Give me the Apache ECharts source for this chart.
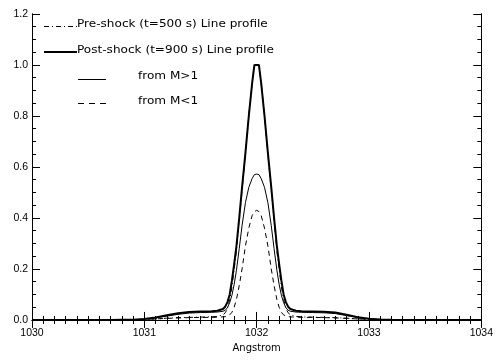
<!DOCTYPE html>
<html><head><meta charset="utf-8">
<script src="https://cdn.jsdelivr.net/npm/echarts@6/dist/echarts.min.js"></script>
<style>html,body{margin:0;padding:0;background:#fff}#c{width:496px;height:361px}</style>
</head><body><div id="c"></div>
<script>
var wavelengths = [1030.0,1030.5,1030.7,1030.8,1030.9,1031.0,1031.1,1031.2,1031.3,1031.4,1031.5,1031.6,1031.65,1031.7,1031.72,1031.74,1031.76,1031.78,1031.8,1031.82,1031.845,1031.87,1031.9,1031.93,1031.96,1031.98,
  1032.0,
  1032.02,1032.04,1032.07,1032.1,1032.13,1032.155,1032.18,1032.2,1032.22,1032.24,1032.26,1032.28,1032.3,1032.35,1032.4,1032.5,1032.6,1032.7,1032.8,1032.9,1033.0,1033.1,1033.2,1033.3,1033.5,1034.0];
var preShock = [0,0,0,0,0.001,0.002,0.004,0.007,0.009,0.01,0.011,0.012,0.014,0.02,0.028,0.045,0.08,0.13,0.2,0.27,0.39,0.51,0.65,0.8,0.93,1.0,
  1.0,
  1.0,0.93,0.8,0.65,0.51,0.39,0.27,0.2,0.13,0.08,0.045,0.028,0.02,0.014,0.012,0.011,0.01,0.009,0.007,0.004,0.002,0.001,0,0,0,0];
var postShock = [0,0,0,0.0005,0.001,0.004,0.01,0.018,0.026,0.031,0.033,0.034,0.036,0.043,0.052,0.07,0.1,0.155,0.22,0.29,0.4,0.52,0.655,0.8,0.93,1.0,
  1.0,
  1.0,0.93,0.8,0.655,0.52,0.4,0.29,0.22,0.155,0.1,0.07,0.052,0.043,0.036,0.034,0.033,0.032,0.029,0.02,0.011,0.005,0.002,0.0005,0,0,0];
var fromMgt1 = [0,0,0,0,0.001,0.003,0.008,0.015,0.022,0.027,0.029,0.03,0.031,0.034,0.038,0.048,0.068,0.097,0.14,0.195,0.28,0.37,0.46,0.52,0.555,0.57,
  0.572,
  0.57,0.555,0.52,0.46,0.37,0.28,0.195,0.14,0.097,0.068,0.048,0.038,0.034,0.031,0.03,0.029,0.028,0.025,0.017,0.009,0.004,0.001,0,0,0,0];
var fromMlt1 = [0,0,0,0,0.001,0.002,0.004,0.006,0.008,0.009,0.01,0.01,0.011,0.012,0.013,0.015,0.02,0.03,0.05,0.08,0.135,0.2,0.29,0.36,0.41,0.425,
  0.43,
  0.425,0.41,0.36,0.29,0.2,0.135,0.08,0.05,0.03,0.02,0.015,0.013,0.012,0.011,0.01,0.01,0.009,0.008,0.006,0.004,0.002,0.001,0,0,0,0];
var yTicks = [0,0.2,0.4,0.6,0.8,1.0,1.2];
var yMinorTicks = [0.05,0.1,0.15,0.25,0.3,0.35,0.45,0.5,0.55,0.65,0.7,0.75,0.85,0.9,0.95,1.05,1.1,1.15];
var legendLabels = ['Pre-shock (t=500 s) Line profile','Post-shock (t=900 s) Line profile','from M>1','from M<1'];
var xTitle = 'Angstrom';

function pairs(ys){return wavelengths.map(function(x,i){return [x,ys[i]];});}
var TICKFONT = 'Liberation Sans';
var chart = echarts.init(document.getElementById('c'), null, {renderer:'canvas'});
var lineAx = {show:true, lineStyle:{color:'#000', width:1}};
function xAx(pos, labels){
  return {type:'value', position:pos, min:1030, max:1034, interval:1,
    axisLine:lineAx, splitLine:{show:false},
    axisTick:{show:true, inside:true, length:8, lineStyle:{color:'#000'}},
    minorTick:{show:true, splitNumber:10, length:4, lineStyle:{color:'#000'}},
    axisLabel:{show:labels, color:'#000', fontFamily:TICKFONT, fontSize:10.5, margin:5,
      formatter:function(v){return String(Math.round(v));}},
    name: labels ? xTitle : '', nameLocation:'middle', nameGap:18,
    nameTextStyle:{color:'#000', fontFamily:'DejaVu Sans', fontSize:10}};
}
function yAx(pos, vals, len, labels){
  return {type:'value', position:pos, min:-0.012, max:1.2,
    axisLine:lineAx, splitLine:{show:false},
    axisTick:{show:true, inside:true, length:len, customValues:vals, lineStyle:{color:'#000'}},
    axisLabel:{show:labels, customValues:vals, color:'#000', fontFamily:TICKFONT, fontSize:10.5, margin:4,
      formatter:function(v){return v.toFixed(1);}}};
}
var lineY = [26.5, 52.5, 79.5, 103.5];
var textY = [24.5, 50.5, 76.5, 101.5];
var graphics = [];
graphics.push({type:'line', shape:{x1:44,y1:lineY[0],x2:77,y2:lineY[0]}, style:{stroke:'#000', lineWidth:1, lineDash:[5,3,1,3]}});
graphics.push({type:'line', shape:{x1:44,y1:lineY[1]-0.5,x2:77,y2:lineY[1]-0.5}, style:{stroke:'#000', lineWidth:2}});
graphics.push({type:'line', shape:{x1:78,y1:lineY[2],x2:106,y2:lineY[2]}, style:{stroke:'#000', lineWidth:1}});
graphics.push({type:'line', shape:{x1:78,y1:lineY[3],x2:106,y2:lineY[3]}, style:{stroke:'#000', lineWidth:1, lineDash:[6,5]}});
var textX = [77, 77, 138, 138];
for (var i=0;i<4;i++){
  graphics.push({type:'text', x:textX[i], y:textY[i], scaleX:1.15, style:{text:legendLabels[i], fill:'#000', font:'10.5px "DejaVu Sans"', textVerticalAlign:'middle'}});
}
chart.setOption({
  animation:false,
  backgroundColor:'#fff',
  grid:{left:32, right:14, top:14, bottom:38, containLabel:false},
  xAxis:[xAx('bottom', true), xAx('top', false)],
  yAxis:[yAx('left', yTicks, 8, true), yAx('left', yMinorTicks, 4, false), yAx('right', yTicks, 8, false), yAx('right', yMinorTicks, 4, false)],
  series:[
    {type:'line', data:pairs(fromMlt1), showSymbol:false, lineStyle:{color:'#000', width:1, type:[5,4]}},
    {type:'line', data:pairs(fromMgt1), showSymbol:false, lineStyle:{color:'#000', width:1}},
    {type:'line', data:pairs(preShock), showSymbol:false, lineStyle:{color:'#000', width:1, type:[5,3,1,3]}},
    {type:'line', data:pairs(postShock), showSymbol:false, lineStyle:{color:'#000', width:2}}
  ],
  graphic:graphics
});
</script></body></html>
